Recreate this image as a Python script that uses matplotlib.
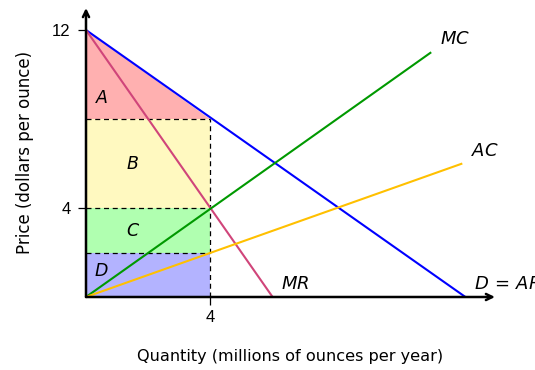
import matplotlib
matplotlib.use("Agg")
import matplotlib.pyplot as plt

plt.rcParams['font.family'] = ['Liberation Sans', 'DejaVu Sans']

# ---- data ----
demand_q = [0, 12.2]
demand_p = [12, 0]
mr_q = [0, 6]
mr_p = [12, 0]
mc_q = [0, 11.1]
mc_p = [0, 11.0]
ac_q = [0, 12.1]
ac_p = [0, 6.0]

q_star = 4          # profit-maximising quantity
p_star = 8          # price
mc_star = 4         # marginal cost at q*
ac_star = 2         # average cost at q*
p_max = 12

x_ticks = [4]
x_tick_labels = ["4"]
y_ticks = [4, 12]
y_tick_labels = ["4", "12"]

area_names = ["A", "B", "C", "D"]
area_label_q = [0.5, 1.5, 1.5, 0.5]
area_label_p = [8.95, 6.0, 3.0, 1.2]

curve_names = ["$D\\,=\\,AR$", "$MR$", "$MC$", "$AC$"]

# ---- figure ----
W, H = 535, 370
fig = plt.figure(figsize=(W / 100, H / 100), dpi=100)
x0, y0 = 86, 297          # pixel position of origin
xpx, ypx = 31.1, 22.25    # pixels per unit
x_end, y_end = 495, 8
ax = fig.add_axes([x0 / W, (H - y0) / H, (x_end - x0) / W, (y0 - y_end) / H])
ax.set_xlim(0, (x_end - x0) / xpx)
ax.set_ylim(0, (y0 - y_end) / ypx)
for s in ax.spines.values():
    s.set_visible(False)

# fills
ax.fill([0, 0, q_star], [p_max, p_star, p_star], color="#ffb0b0", lw=0, zorder=1)
ax.fill_between([0, q_star], mc_star, p_star, color="#fff9c0", lw=0, zorder=1)
ax.fill_between([0, q_star], ac_star, mc_star, color="#b0ffb0", lw=0, zorder=1)
ax.fill_between([0, q_star], 0, ac_star, color="#b3b3ff", lw=0, zorder=1)

# dashed guides
dash = dict(color="black", lw=0.9, ls=(0, (4, 3)), zorder=2)
for p in [p_star, mc_star, ac_star]:
    ax.plot([0, q_star], [p, p], **dash)
ax.plot([q_star, q_star], [0, p_star], **dash)

# curves
lw = 1.5
ax.plot(demand_q, demand_p, color="#0000ff", lw=lw, zorder=3, solid_capstyle="butt")
ax.plot(mr_q, mr_p, color="#d0457a", lw=lw, zorder=3, solid_capstyle="butt")
ax.plot(mc_q, mc_p, color="#009900", lw=lw, zorder=3, solid_capstyle="butt")
ax.plot(ac_q, ac_p, color="#ffc000", lw=lw, zorder=3, solid_capstyle="butt")

# curve labels
ends = [(demand_q[-1], demand_p[-1]), (mr_q[-1], mr_p[-1]),
        (mc_q[-1], mc_p[-1]), (ac_q[-1], ac_p[-1])]
for name, (q, p) in zip(curve_names, ends):
    ax.annotate(name, (q, p), xytext=(6.3, 9.0), textcoords="offset points",
                ha="left", va="center", fontsize=13, annotation_clip=False,
                clip_on=False)

# area labels
for name, q, p in zip(area_names, area_label_q, area_label_p):
    ax.text(q, p, "$" + name + "$", ha="center", va="center", fontsize=12.5, zorder=4)

# axes arrows
arrow = dict(arrowstyle="->,head_length=0.45,head_width=0.22", lw=1.8, color="black",
             shrinkA=0, shrinkB=0)
ax.annotate("", xy=(1, 0), xytext=(0, 0), xycoords="axes fraction",
            arrowprops=arrow, zorder=5)
ax.annotate("", xy=(0, 1), xytext=(0, 0), xycoords="axes fraction",
            arrowprops=arrow, zorder=5)

# ticks
ax.set_xticks(x_ticks, x_tick_labels)
ax.set_yticks(y_ticks, y_tick_labels)
ax.tick_params(axis="both", direction="out", length=6, width=0.9, labelsize=12)
ax.tick_params(axis="y", pad=5)
ax.tick_params(axis="x", pad=3)

ax.set_xlabel("Quantity (millions of ounces per year)", fontsize=11.6,
              family="DejaVu Sans", labelpad=18)
ax.set_ylabel("Price (dollars per ounce)", fontsize=12,
              family="DejaVu Sans", labelpad=13)

fig.savefig("out.png", dpi=100)
